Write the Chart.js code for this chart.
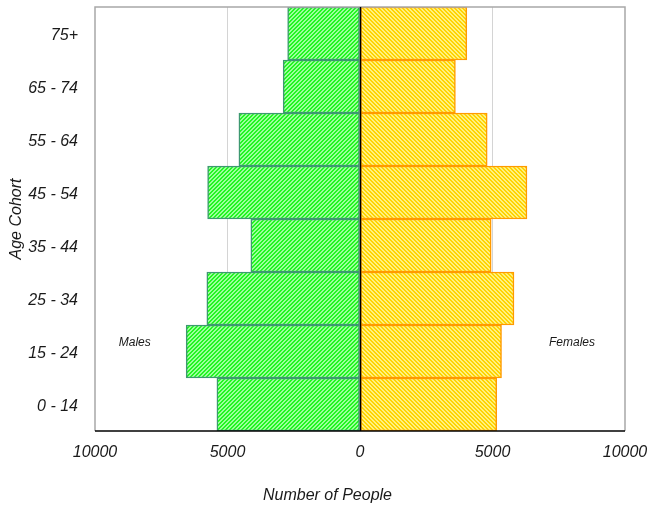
<!DOCTYPE html>
<html>
<head>
<meta charset="utf-8">
<script src="https://cdn.jsdelivr.net/npm/chart.js@4"></script>
<style>
  body { margin: 0; background: #fff; }
  #wrap { width: 647px; height: 506px; }
</style>
</head>
<body>
<div id="wrap"><canvas id="pyramid" width="647" height="506"></canvas></div>
<script>
// age cohorts, bottom to top
const cohorts = ['0 - 14', '15 - 24', '25 - 34', '35 - 44', '45 - 54', '55 - 64', '65 - 74', '75+'];
const males = [5400, 6560, 5780, 4120, 5750, 4570, 2900, 2730];
const females = [5160, 5340, 5810, 4950, 6300, 4800, 3600, 4030];
const xTicks = [-10000, -5000, 0, 5000, 10000];

const FONT = "'Liberation Sans', Arial, Helvetica, sans-serif";

// diagonal hatch fill
function hatch(dark, light, rising) {
    const size = 4;
    const c = document.createElement('canvas');
    c.width = size; c.height = size;
    const g = c.getContext('2d');
    for (let x = 0; x < size; x++) {
        for (let y = 0; y < size; y++) {
            const k = rising ? (x + y) % size : (x - y + size) % size;
            g.fillStyle = k < 2 ? light : dark;
            g.fillRect(x, y, 1, 1);
        }
    }
    return g.createPattern(c, 'repeat');
}

const ctx = document.getElementById('pyramid').getContext('2d');

const framePlugin = {
    id: 'frame',
    afterDatasetsDraw(chart) {
        const { ctx, chartArea: a, scales } = chart;
        ctx.save();
        // gray frame left/top/right
        ctx.strokeStyle = '#a8a8a8';
        ctx.lineWidth = 1.5;
        ctx.beginPath();
        ctx.moveTo(a.left, a.bottom);
        ctx.lineTo(a.left, a.top);
        ctx.lineTo(a.right, a.top);
        ctx.lineTo(a.right, a.bottom);
        ctx.stroke();
        // bottom axis
        ctx.strokeStyle = '#000';
        ctx.lineWidth = 1.5;
        ctx.beginPath();
        ctx.moveTo(a.left, a.bottom);
        ctx.lineTo(a.right, a.bottom);
        ctx.stroke();
        // centre line
        const x0 = Math.round(scales.x.getPixelForValue(0)) + 0.5;
        ctx.lineWidth = 1.5;
        ctx.beginPath();
        ctx.moveTo(x0, a.top);
        ctx.lineTo(x0, a.bottom);
        ctx.stroke();
        // side labels
        ctx.fillStyle = '#1a1a1a';
        ctx.font = 'italic 12px ' + FONT;
        ctx.textAlign = 'center';
        ctx.textBaseline = 'middle';
        const ly = a.top + (a.bottom - a.top) * 0.791;
        ctx.fillText('Males', scales.x.getPixelForValue(-8500), ly);
        ctx.fillText('Females', scales.x.getPixelForValue(8000), ly);
        // x axis title, centred on the page
        ctx.font = 'italic 16px ' + FONT;
        ctx.fillText('Number of People', chart.width / 2 + 4, chart.height - 10);
        ctx.restore();
    }
};

new Chart(ctx, {
    type: 'bar',
    data: {
        labels: cohorts,
        datasets: [{
            label: 'Males',
            data: males.map(v => -v),
            backgroundColor: hatch('#22f522', '#9cff9c', true),
            borderColor: '#3d9970',
            borderWidth: 1.5,
            borderSkipped: false,
            barPercentage: 1,
            categoryPercentage: 1
        }, {
            label: 'Females',
            data: females,
            backgroundColor: hatch('#ffd400', '#fff080', false),
            borderColor: '#ff9a00',
            borderWidth: 1.5,
            borderSkipped: false,
            barPercentage: 1,
            categoryPercentage: 1
        }]
    },
    options: {
        indexAxis: 'y',
        responsive: false,
        animation: false,
        layout: { padding: { top: 7, right: 22, left: 0, bottom: 23 } },
        plugins: {
            legend: { display: false },
            tooltip: { enabled: false },
            title: { display: false }
        },
        scales: {
            x: {
                type: 'linear',
                min: -10000,
                max: 10000,
                stacked: true,
                afterBuildTicks: s => { s.ticks = xTicks.map(v => ({ value: v })); },
                afterFit: s => {
                    s.height = 52;
                    s.paddingLeft = 0; s.paddingRight = 0;
                },
                ticks: {
                    callback: v => String(Math.abs(v)),
                    color: '#1a1a1a',
                    padding: 12,
                    maxRotation: 0,
                    font: { family: FONT, size: 16, style: 'italic' }
                },
                grid: {
                    drawTicks: false,
                    color: c => (c.tick && Math.abs(c.tick.value) === 5000) ? '#d4d4d4' : 'rgba(0,0,0,0)',
                    lineWidth: 1
                },
                border: { display: false }
            },
            y: {
                reverse: true,
                stacked: true,
                afterFit: s => {
                    s.width = 95;
                    s.paddingTop = 0; s.paddingBottom = 0;
                },
                ticks: {
                    color: '#1a1a1a',
                    padding: 17,
                    labelOffset: 2,
                    font: { family: FONT, size: 16, style: 'italic' }
                },
                grid: { display: false, drawTicks: false },
                border: { display: false },
                title: {
                    display: true,
                    text: 'Age Cohort',
                    color: '#1a1a1a',
                    font: { family: FONT, size: 16, style: 'italic', weight: 'normal' },
                    padding: { top: 7, bottom: 0 }
                }
            }
        }
    },
    plugins: [framePlugin]
});
</script>
</body>
</html>
